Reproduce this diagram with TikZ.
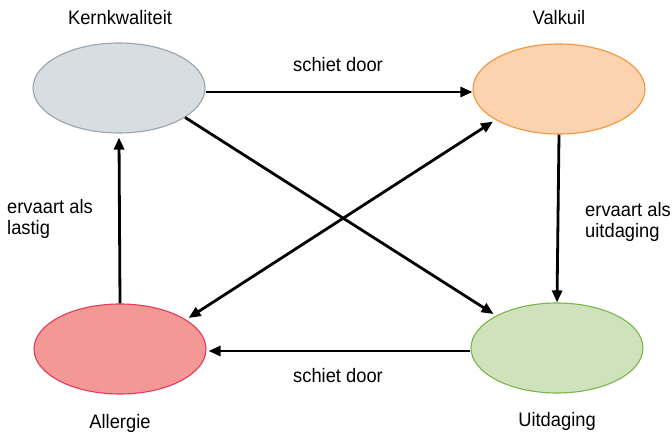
\documentclass[tikz,border=0pt]{standalone}
\usepackage{fontspec}
\setmainfont[FakeStretch=0.94]{Liberation Sans}
\usetikzlibrary{shapes.geometric,arrows.meta}
\definecolor{kfill}{HTML}{D8DDE2}
\definecolor{kdraw}{HTML}{9AA3AD}
\definecolor{vfill}{HTML}{FBD3AE}
\definecolor{vdraw}{HTML}{F4943C}
\definecolor{afill}{HTML}{F49896}
\definecolor{adraw}{HTML}{E33A5A}
\definecolor{ufill}{HTML}{D0E2BC}
\definecolor{udraw}{HTML}{7AB648}
\begin{document}
\begin{tikzpicture}[x=1pt,y=-1pt,
  >={Triangle[length=12pt,width=10pt]},
  blob/.style={ellipse,minimum width=172pt,minimum height=90pt,inner sep=0pt,line width=1.1pt},
  lbl/.style={font=\fontsize{19.5}{21.5}\selectfont},
  conn/.style={line width=2.8pt,->},
  biconn/.style={line width=2.8pt,<->}]
\useasboundingbox (0,0) rectangle (672,438);
\node[blob,fill=kfill,draw=kdraw] (K) at (119,88) {};
\node[blob,fill=vfill,draw=vdraw] (V) at (559,89) {};
\node[blob,fill=afill,draw=adraw] (A) at (120,349) {};
\node[blob,fill=ufill,draw=udraw] (U) at (557,348) {};
\node[lbl] (tK) at (120,18) {Kernkwaliteit};
\node[lbl] (tV) at (559,18) {Valkuil};
\node[lbl] (tA) at (120,423) {Allergie};
\node[lbl] (tU) at (557,421) {Uitdaging};
\node[lbl] (s1) at (338,65) {schiet door};
\node[lbl] (s2) at (338,376) {schiet door};
\node[lbl,anchor=west,align=left,inner sep=0pt] (e1) at (7,219) {ervaart als\\lastig};
\node[lbl,anchor=west,align=left,inner sep=0pt] (e2) at (585,222) {ervaart als\\uitdaging};
\draw[conn] (K.east |- 0,92) -- (V.west |- 0,92);
\draw[conn] (V.south) -- (U.north);
\draw[conn] (U.west |- 0,351) -- ([xshift=2pt]A.east |- 0,351);
\draw[conn] (A.north) -- ([yshift=-4pt]K.south);
\draw[conn,shorten >=3pt] (K.-24) -- (U.152);
\draw[biconn,shorten >=3pt,shorten <=3pt] (A.24) -- (V.-154);
\end{tikzpicture}
\end{document}
